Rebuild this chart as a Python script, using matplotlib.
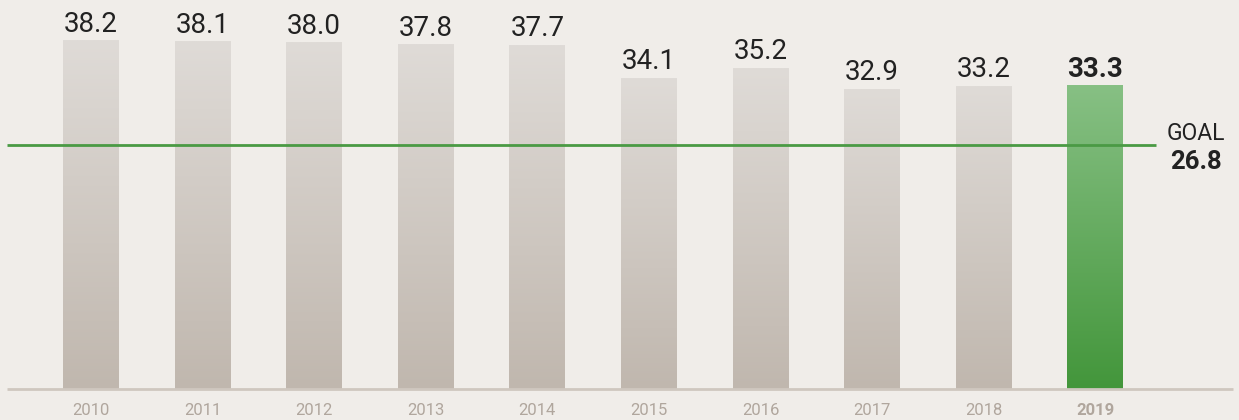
import matplotlib
matplotlib.use('Agg')
import matplotlib.pyplot as plt
import numpy as np
from matplotlib.colors import LinearSegmentedColormap

# Data
years = ['2010', '2011', '2012', '2013', '2014', '2015', '2016', '2017', '2018', '2019']
values = [38.2, 38.1, 38.0, 37.8, 37.7, 34.1, 35.2, 32.9, 33.2, 33.3]
goal = 26.8

bg = '#f0ede9'
plt.rcParams['font.family'] = ['Roboto', 'DejaVu Sans']

gray_cmap = LinearSegmentedColormap.from_list('g', ['#c0b7ae', '#dfdbd7'])
green_cmap = LinearSegmentedColormap.from_list('gr', ['#43963b', '#87c084'])

fig = plt.figure(figsize=(12.39, 4.2), dpi=100, facecolor=bg)
ax = fig.add_axes([0, 0, 1, 1])
ax.set_facecolor(bg)

x = np.arange(len(years))
w = 0.50
grad = np.linspace(0, 1, 256).reshape(-1, 1)
for i, (xi, v) in enumerate(zip(x, values)):
    last = i == len(values) - 1
    cmap = green_cmap if last else gray_cmap
    ax.imshow(grad, extent=[xi - w / 2, xi + w / 2, 0, v], origin='lower',
              cmap=cmap, aspect='auto', zorder=2, interpolation='bilinear')
    ax.text(xi, v + 1.0, f'{v:.1f}', ha='center', va='baseline', fontsize=20,
            color='#222222', fontweight='bold' if last else 'normal', zorder=5)
    ax.text(xi, -2.35, years[i], ha='center', va='center', fontsize=12,
            color='#b0a69d', fontweight='bold' if last else 'normal')

# baseline and goal line
ax.plot([-0.753, 10.233], [0, 0], color='#cfc7bf', lw=2, zorder=3, solid_capstyle='butt')
ax.plot([-0.753, 9.543], [goal, goal], color='#4a9a44', lw=2, zorder=4, solid_capstyle='butt')
ax.text(9.905, goal + 1.25, 'GOAL', ha='center', va='center', fontsize=16.5, color='#222222')
ax.text(9.905, goal - 1.9, f'{goal:.1f}', ha='center', va='center', fontsize=18.5,
        fontweight='bold', color='#222222')

ax.set_xlim(-0.815, 10.287)
ax.set_ylim(-3.40, 42.70)
ax.axis('off')

fig.savefig('out.png', dpi=100, facecolor=bg)
